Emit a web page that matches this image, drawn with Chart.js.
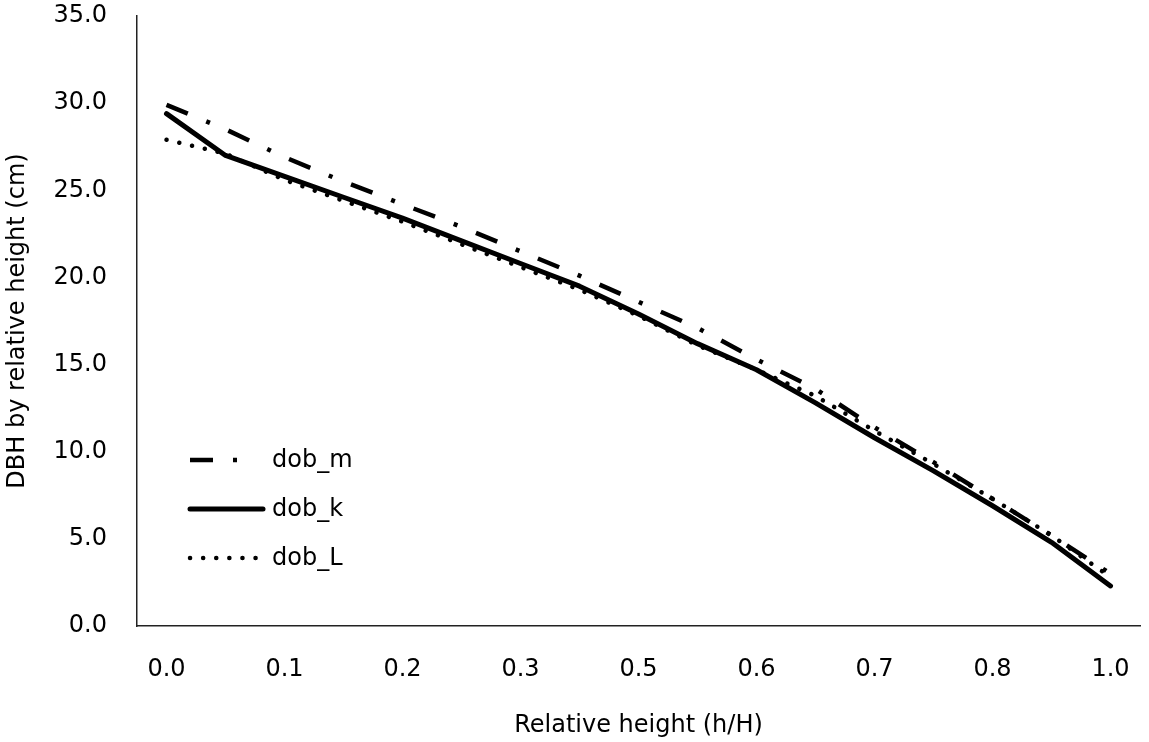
<!DOCTYPE html>
<html>
<head>
<meta charset="utf-8">
<title>DBH by relative height</title>
<script src="https://cdn.jsdelivr.net/npm/chart.js@4.4.1/dist/chart.umd.min.js"></script>
<style>
  html, body { margin: 0; padding: 0; background: #fff; }
  #wrap { width: 1149px; height: 742px; }
</style>
</head>
<body>
<div id="wrap"><canvas id="taperChart" width="1149" height="742"></canvas></div>
<script>
// Relative height (h/H) categories
const relHeight = [0.0, 0.05, 0.1, 0.15, 0.2, 0.25, 0.3, 0.4, 0.5, 0.55, 0.6, 0.65, 0.7, 0.75, 0.8, 0.9, 1.0];

// Diameter outside bark (cm) by model
const dobM = [29.9, 28.5, 26.9, 25.5, 24.2, 22.9, 21.5, 20.1, 18.6, 17.1, 15.3, 13.6, 11.4, 9.4, 7.3, 5.2, 3.0];
const dobK = [29.4, 27.0, 25.8, 24.6, 23.4, 22.1, 20.8, 19.5, 17.9, 16.2, 14.7, 12.8, 10.8, 8.9, 6.9, 4.8, 2.3];
const dobL = [27.9, 27.1, 25.6, 24.4, 23.2, 21.9, 20.6, 19.3, 17.8, 16.1, 14.7, 13.2, 11.2, 9.3, 7.3, 5.2, 2.8];

// Axis range
const yMin = 0;
const yMax = 35;
const yStep = 5;

const FONT = "'DejaVu Sans', Verdana, sans-serif";

Chart.defaults.font.family = FONT;
Chart.defaults.font.size = 24;
Chart.defaults.color = '#000';

// Legend drawn inside the plot, lower left (like the Excel one)
const insideLegend = {
    id: 'insideLegend',
    afterDraw: function(chart, args, opts) {
        const ctx = chart.ctx;
        ctx.save();
        chart.data.datasets.forEach(function(ds, i) {
            const y = opts.top + i * opts.rowGap;
            const dash = ds.borderDash || [];
            let len = opts.sampleWidth;
            // dash-dot sample: one dash and one dot only
            if (dash.length === 4) len = dash[0] + dash[1] + dash[2];
            ctx.beginPath();
            ctx.setLineDash(dash);
            ctx.lineCap = ds.borderCapStyle || 'butt';
            ctx.lineWidth = ds.borderWidth;
            ctx.strokeStyle = ds.borderColor;
            ctx.moveTo(opts.left, y);
            ctx.lineTo(opts.left + len, y);
            ctx.stroke();
            ctx.setLineDash([]);
            ctx.fillStyle = '#000';
            ctx.font = '24px ' + FONT;
            ctx.textBaseline = 'middle';
            ctx.textAlign = 'left';
            ctx.fillText(ds.label, opts.left + opts.sampleWidth + 9, y + 1);
        });
        ctx.restore();
    }
};

new Chart(document.getElementById('taperChart'), {
    type: 'line',
    data: {
        labels: relHeight,
        datasets: [{
            label: 'dob_m',
            data: dobM,
            borderColor: '#000',
            borderWidth: 4.5,
            borderDash: [23, 20, 4, 20],
            borderCapStyle: 'butt',
            pointRadius: 0,
            tension: 0
        }, {
            label: 'dob_k',
            data: dobK,
            borderColor: '#000',
            borderWidth: 5,
            borderCapStyle: 'round',
            borderJoinStyle: 'round',
            pointRadius: 0,
            tension: 0
        }, {
            label: 'dob_L',
            data: dobL,
            borderColor: '#000',
            borderWidth: 4.5,
            borderDash: [0.1, 13],
            borderCapStyle: 'round',
            pointRadius: 0,
            tension: 0
        }]
    },
    options: {
        responsive: false,
        devicePixelRatio: 1,
        animation: false,
        layout: {
            padding: { top: 0, right: 9, bottom: 0, left: 0 }
        },
        plugins: {
            legend: { display: false },
            tooltip: { enabled: false },
            insideLegend: { left: 190, top: 460, rowGap: 49, sampleWidth: 73 }
        },
        scales: {
            x: {
                type: 'category',
                offset: true,
                grid: { display: false, drawTicks: false },
                border: { display: true, color: '#222', width: 1.5 },
                ticks: {
                    autoSkip: false,
                    maxRotation: 0,
                    padding: 29,
                    callback: function(value, index) {
                        // Excel shows every second category
                        return index % 2 === 0 ? relHeight[index].toFixed(1) : '';
                    }
                },
                title: {
                    display: true,
                    text: 'Relative height (h/H)',
                    padding: { top: 0, bottom: 2 }
                },
                afterFit: function(scale) {
                    scale.height = 116;
                    scale.paddingLeft = 0;
                    scale.paddingRight = 0;
                }
            },
            y: {
                min: yMin,
                max: yMax,
                grid: { display: false, drawTicks: false },
                border: { display: true, color: '#222', width: 1.5 },
                ticks: {
                    stepSize: yStep,
                    padding: 30,
                    callback: function(value) {
                        return value.toFixed(1);
                    }
                },
                title: {
                    display: true,
                    text: 'DBH by relative height (cm)',
                    padding: { top: 3, bottom: 0 }
                },
                afterFit: function(scale) {
                    scale.width = 137;
                    // top tick label sits close to the canvas edge
                    scale.paddingTop = 16;
                    scale.paddingBottom = 0;
                }
            }
        }
    },
    plugins: [insideLegend]
});
</script>
</body>
</html>
